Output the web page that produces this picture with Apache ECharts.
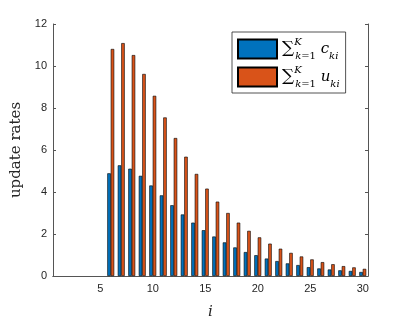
<!DOCTYPE html>
<html>
<head>
<meta charset="utf-8">
<script src="https://cdn.jsdelivr.net/npm/echarts@6/dist/echarts.min.js"></script>
<style>html,body{margin:0;padding:0;background:#fff;}#c{width:407px;height:325px;}</style>
</head>
<body>
<div id="c"></div>
<script>
const iCats = ['1','2','3','4','5','6','7','8','9','10','11','12','13','14','15','16','17','18','19','20','21','22','23','24','25','26','27','28','29','30'];
const cSum = [0,0,0,0,0,4.89,5.27,5.11,4.77,4.31,3.84,3.37,2.93,2.54,2.18,1.88,1.60,1.36,1.14,0.99,0.83,0.71,0.60,0.52,0.42,0.36,0.31,0.27,0.24,0.19];
const uSum = [0,0,0,0,0,10.81,11.09,10.52,9.62,8.58,7.55,6.57,5.68,4.86,4.16,3.54,3.00,2.54,2.15,1.84,1.54,1.30,1.10,0.93,0.79,0.66,0.56,0.47,0.41,0.34];
const yTicks = {min: 0, max: 12, interval: 2};

const axisColor = '#555';
const textColor = '#262626';
const showEvery5 = (idx) => (idx + 1) % 5 === 0;
const hideZeroBorder = (arr) => arr.map(v => v === 0 ? {value: v, itemStyle: {borderWidth: 0, opacity: 0}} : v);

const chart = echarts.init(document.getElementById('c'), null, {renderer: 'canvas'});
chart.setOption({
  animation: false,
  backgroundColor: '#fff',
  grid: {left: 53, top: 24, right: 39, bottom: 46, containLabel: false},
  legend: {
    orient: 'vertical',
    left: 232, top: 32,
    padding: [5, 6, 4, 5],
    itemWidth: 39, itemHeight: 19, itemGap: 4,
    backgroundColor: '#fff',
    borderColor: '#262626', borderWidth: 0.8,
    icon: 'rect',
    selectedMode: false,
    formatter: (name) => name === 'c'
      ? '{sum|∑}{sup|K}{subk|k}{sub|=1}{v| c}{vs|ki}'
      : '{sum|∑}{sup|K}{subk|k}{sub|=1}{v| u}{vs|ki}',
    textStyle: {
      color: '#000',
      rich: {
        sum: {fontFamily: 'DejaVu Serif', fontSize: 17, lineHeight: 24, verticalAlign: 'middle'},
        sup: {fontFamily: 'DejaVu Serif', fontStyle: 'italic', fontSize: 10, lineHeight: 24, verticalAlign: 'top', width: 1},
        subk: {fontFamily: 'DejaVu Serif', fontStyle: 'italic', fontSize: 10, lineHeight: 24, verticalAlign: 'bottom'},
        sub: {fontFamily: 'DejaVu Serif', fontSize: 10, lineHeight: 24, verticalAlign: 'bottom'},
        v: {fontFamily: 'DejaVu Serif', fontStyle: 'italic', fontSize: 15, lineHeight: 24, verticalAlign: 'middle'},
        vs: {fontFamily: 'DejaVu Serif', fontStyle: 'italic', fontSize: 10, lineHeight: 24, verticalAlign: 'bottom'}
      }
    },
    data: ['c', 'u']
  },
  xAxis: [{
    type: 'category',
    data: iCats,
    boundaryGap: true,
    name: 'i',
    nameLocation: 'middle',
    nameGap: 29,
    nameTextStyle: {fontFamily: 'DejaVu Serif', fontStyle: 'italic', fontSize: 15, color: textColor},
    axisLine: {lineStyle: {color: axisColor, width: 1}},
    axisTick: {inside: true, length: 3, alignWithLabel: true, interval: showEvery5, lineStyle: {color: axisColor}},
    axisLabel: {interval: showEvery5, margin: 7, fontFamily: 'Liberation Sans', fontSize: 11, color: textColor},
    splitLine: {show: false}
  }, {
    type: 'category',
    data: iCats,
    position: 'top',
    boundaryGap: true,
    axisLine: {lineStyle: {color: axisColor, width: 1}},
    axisTick: {inside: true, length: 3, alignWithLabel: true, interval: showEvery5, lineStyle: {color: axisColor}},
    axisLabel: {show: false},
    splitLine: {show: false}
  }],
  yAxis: [{
    type: 'value',
    min: yTicks.min, max: yTicks.max, interval: yTicks.interval,
    name: 'update rates',
    nameLocation: 'middle',
    nameGap: 22,
    nameTextStyle: {fontFamily: 'DejaVu Serif', fontSize: 15, color: textColor},
    axisLine: {show: true, lineStyle: {color: axisColor, width: 1}},
    axisTick: {show: true, inside: true, length: 3, lineStyle: {color: axisColor}},
    axisLabel: {margin: 6, fontFamily: 'Liberation Sans', fontSize: 11, color: textColor},
    splitLine: {show: false}
  }, {
    type: 'value',
    position: 'right',
    min: yTicks.min, max: yTicks.max, interval: yTicks.interval,
    axisLine: {show: true, lineStyle: {color: axisColor, width: 1}},
    axisTick: {show: true, inside: true, length: 3, lineStyle: {color: axisColor}},
    axisLabel: {show: false},
    splitLine: {show: false}
  }],
  series: [{
    name: 'c', type: 'bar', data: hideZeroBorder(cSum),
    barWidth: '33%', barGap: '0%',
    itemStyle: {color: '#0072BD', borderColor: '#000', borderWidth: 0.6}
  }, {
    name: 'u', type: 'bar', data: hideZeroBorder(uSum),
    barWidth: '33%', barGap: '0%',
    itemStyle: {color: '#D95319', borderColor: '#000', borderWidth: 0.6}
  }]
});
</script>
</body>
</html>
